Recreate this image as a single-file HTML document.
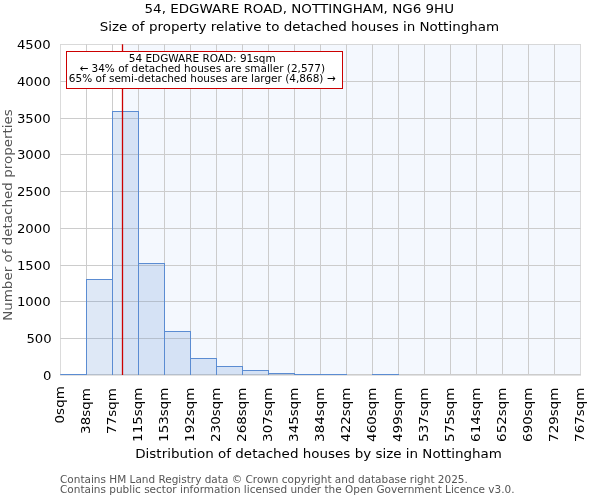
<!DOCTYPE html>
<html lang="en"><head><meta charset="utf-8"><title>54, EDGWARE ROAD, NOTTINGHAM, NG6 9HU</title>
<style>html,body{margin:0;padding:0;background:#fff;overflow:hidden}svg{display:block}text{font-family:"DejaVu Sans","Liberation Sans",sans-serif;white-space:pre}</style>
</head><body>
<svg width="600" height="500" viewBox="0 0 600 500">
<rect width="600" height="500" fill="#fff"/>
<defs><clipPath id="ax"><rect x="60.3" y="44.35" width="520.4000000000001" height="330.65"/></clipPath></defs>
<g clip-path="url(#ax)">
<rect x="122.5" y="40" width="458.0" height="340" fill="rgba(70,130,240,0.06)"/>
<g stroke="#cccccc" stroke-width="1" fill="none">
<line x1="60.5" y1="40" x2="60.5" y2="380"/>
<line x1="86.5" y1="40" x2="86.5" y2="380"/>
<line x1="112.5" y1="40" x2="112.5" y2="380"/>
<line x1="138.5" y1="40" x2="138.5" y2="380"/>
<line x1="164.5" y1="40" x2="164.5" y2="380"/>
<line x1="190.5" y1="40" x2="190.5" y2="380"/>
<line x1="216.5" y1="40" x2="216.5" y2="380"/>
<line x1="242.5" y1="40" x2="242.5" y2="380"/>
<line x1="268.5" y1="40" x2="268.5" y2="380"/>
<line x1="294.5" y1="40" x2="294.5" y2="380"/>
<line x1="320.5" y1="40" x2="320.5" y2="380"/>
<line x1="346.5" y1="40" x2="346.5" y2="380"/>
<line x1="372.5" y1="40" x2="372.5" y2="380"/>
<line x1="398.5" y1="40" x2="398.5" y2="380"/>
<line x1="424.5" y1="40" x2="424.5" y2="380"/>
<line x1="450.5" y1="40" x2="450.5" y2="380"/>
<line x1="476.5" y1="40" x2="476.5" y2="380"/>
<line x1="502.5" y1="40" x2="502.5" y2="380"/>
<line x1="528.5" y1="40" x2="528.5" y2="380"/>
<line x1="554.5" y1="40" x2="554.5" y2="380"/>
<line x1="580.5" y1="40" x2="580.5" y2="380"/>
<line x1="55" y1="338.5" x2="585" y2="338.5"/>
<line x1="55" y1="301.5" x2="585" y2="301.5"/>
<line x1="55" y1="265.5" x2="585" y2="265.5"/>
<line x1="55" y1="228.5" x2="585" y2="228.5"/>
<line x1="55" y1="191.5" x2="585" y2="191.5"/>
<line x1="55" y1="154.5" x2="585" y2="154.5"/>
<line x1="55" y1="118.5" x2="585" y2="118.5"/>
<line x1="55" y1="81.5" x2="585" y2="81.5"/>
<line x1="55" y1="44.5" x2="585" y2="44.5"/>
<line x1="55" y1="374.6" x2="585" y2="374.6" stroke-width="1.2"/>
</g>
<g fill="rgba(91,140,210,0.2)" stroke="#5b8cd2" stroke-width="1">
<rect x="60.5" y="374.5" width="26.0" height="2.0"/>
<rect x="86.5" y="279.5" width="26.0" height="97.0"/>
<rect x="112.5" y="111.5" width="26.0" height="265.0"/>
<rect x="138.5" y="263.5" width="26.0" height="113.0"/>
<rect x="164.5" y="331.5" width="26.0" height="45.0"/>
<rect x="190.5" y="358.5" width="26.0" height="18.0"/>
<rect x="216.5" y="366.5" width="26.0" height="10.0"/>
<rect x="242.5" y="370.5" width="26.0" height="6.0"/>
<rect x="268.5" y="373.5" width="26.0" height="3.0"/>
<rect x="294.5" y="374.5" width="26.0" height="2.0"/>
<rect x="320.5" y="374.5" width="26.0" height="2.0"/>
<rect x="372.5" y="374.5" width="26.0" height="2.0"/>
</g>
<line x1="122.5" y1="40" x2="122.5" y2="380" stroke="#cc0000" stroke-width="1.3"/>
</g>
<rect x="60" y="375" width="521" height="1" fill="#e2e2e2"/>
<text transform="translate(299.30,13.00) scale(1.0784,1)" font-size="12.5" text-anchor="middle" fill="#000000">54, EDGWARE ROAD, NOTTINGHAM, NG6 9HU</text>
<text transform="translate(299.40,31.00) scale(1.0784,1)" font-size="12.5" text-anchor="middle" fill="#000000">Size of property relative to detached houses in Nottingham</text>
<text transform="translate(51.50,379.70) scale(1.0600,1)" font-size="12.5" text-anchor="end" fill="#000000">0</text>
<text transform="translate(51.70,342.98) scale(1.0600,1)" font-size="12.5" text-anchor="end" fill="#000000">500</text>
<text transform="translate(50.60,306.26) scale(1.0600,1)" font-size="12.5" text-anchor="end" fill="#000000">1000</text>
<text transform="translate(50.60,269.54) scale(1.0600,1)" font-size="12.5" text-anchor="end" fill="#000000">1500</text>
<text transform="translate(50.60,232.82) scale(1.0600,1)" font-size="12.5" text-anchor="end" fill="#000000">2000</text>
<text transform="translate(50.60,196.10) scale(1.0600,1)" font-size="12.5" text-anchor="end" fill="#000000">2500</text>
<text transform="translate(50.60,159.38) scale(1.0600,1)" font-size="12.5" text-anchor="end" fill="#000000">3000</text>
<text transform="translate(50.60,122.66) scale(1.0600,1)" font-size="12.5" text-anchor="end" fill="#000000">3500</text>
<text transform="translate(50.60,85.94) scale(1.0600,1)" font-size="12.5" text-anchor="end" fill="#000000">4000</text>
<text transform="translate(50.60,49.22) scale(1.0600,1)" font-size="12.5" text-anchor="end" fill="#000000">4500</text>
<text transform="translate(64.10,386.20) rotate(-90) scale(1.0784,1)" font-size="12.5" text-anchor="end" fill="#000000">0sqm</text>
<text transform="translate(90.10,388.10) rotate(-90) scale(1.0784,1)" font-size="12.5" text-anchor="end" fill="#000000">38sqm</text>
<text transform="translate(116.10,388.10) rotate(-90) scale(1.0784,1)" font-size="12.5" text-anchor="end" fill="#000000">77sqm</text>
<text transform="translate(142.10,387.50) rotate(-90) scale(1.0784,1)" font-size="12.5" text-anchor="end" fill="#000000">115sqm</text>
<text transform="translate(168.10,387.50) rotate(-90) scale(1.0784,1)" font-size="12.5" text-anchor="end" fill="#000000">153sqm</text>
<text transform="translate(194.10,387.50) rotate(-90) scale(1.0784,1)" font-size="12.5" text-anchor="end" fill="#000000">192sqm</text>
<text transform="translate(220.10,387.50) rotate(-90) scale(1.0784,1)" font-size="12.5" text-anchor="end" fill="#000000">230sqm</text>
<text transform="translate(246.10,387.50) rotate(-90) scale(1.0784,1)" font-size="12.5" text-anchor="end" fill="#000000">268sqm</text>
<text transform="translate(272.10,387.50) rotate(-90) scale(1.0784,1)" font-size="12.5" text-anchor="end" fill="#000000">307sqm</text>
<text transform="translate(298.10,387.50) rotate(-90) scale(1.0784,1)" font-size="12.5" text-anchor="end" fill="#000000">345sqm</text>
<text transform="translate(324.10,387.50) rotate(-90) scale(1.0784,1)" font-size="12.5" text-anchor="end" fill="#000000">384sqm</text>
<text transform="translate(350.10,387.50) rotate(-90) scale(1.0784,1)" font-size="12.5" text-anchor="end" fill="#000000">422sqm</text>
<text transform="translate(376.10,387.50) rotate(-90) scale(1.0784,1)" font-size="12.5" text-anchor="end" fill="#000000">460sqm</text>
<text transform="translate(402.10,387.50) rotate(-90) scale(1.0784,1)" font-size="12.5" text-anchor="end" fill="#000000">499sqm</text>
<text transform="translate(428.10,387.50) rotate(-90) scale(1.0784,1)" font-size="12.5" text-anchor="end" fill="#000000">537sqm</text>
<text transform="translate(454.10,387.50) rotate(-90) scale(1.0784,1)" font-size="12.5" text-anchor="end" fill="#000000">575sqm</text>
<text transform="translate(480.10,387.50) rotate(-90) scale(1.0784,1)" font-size="12.5" text-anchor="end" fill="#000000">614sqm</text>
<text transform="translate(506.10,387.50) rotate(-90) scale(1.0784,1)" font-size="12.5" text-anchor="end" fill="#000000">652sqm</text>
<text transform="translate(532.10,387.50) rotate(-90) scale(1.0784,1)" font-size="12.5" text-anchor="end" fill="#000000">690sqm</text>
<text transform="translate(558.10,387.50) rotate(-90) scale(1.0784,1)" font-size="12.5" text-anchor="end" fill="#000000">729sqm</text>
<text transform="translate(584.10,387.50) rotate(-90) scale(1.0784,1)" font-size="12.5" text-anchor="end" fill="#000000">767sqm</text>
<text transform="translate(318.60,458.00) scale(1.0784,1)" font-size="12.5" text-anchor="middle" fill="#000000">Distribution of detached houses by size in Nottingham</text>
<text transform="translate(12.00,215.00) rotate(-90) scale(1.0784,1)" font-size="12.5" text-anchor="middle" fill="#555555">Number of detached properties</text>
<rect x="66.5" y="51.5" width="276" height="37" fill="#fff" stroke="#cc0000" stroke-width="1"/>
<text transform="translate(202.20,62.00) scale(0.9633,1)" font-size="10.9" text-anchor="middle" fill="#000000">54 EDGWARE ROAD: 91sqm</text>
<text transform="translate(202.20,72.00) scale(0.9633,1)" font-size="10.9" text-anchor="middle" fill="#000000">← 34% of detached houses are smaller (2,577)</text>
<text transform="translate(202.20,82.00) scale(0.9633,1)" font-size="10.9" text-anchor="middle" fill="#000000">65% of semi-detached houses are larger (4,868) →</text>
<text transform="translate(60.00,483.00) scale(0.9633,1)" font-size="10.9" text-anchor="start" fill="#555555">Contains HM Land Registry data © Crown copyright and database right 2025.</text>
<text transform="translate(60.00,493.00) scale(0.9633,1)" font-size="10.9" text-anchor="start" fill="#555555">Contains public sector information licensed under the Open Government Licence v3.0.</text>
</svg>
</body></html>
